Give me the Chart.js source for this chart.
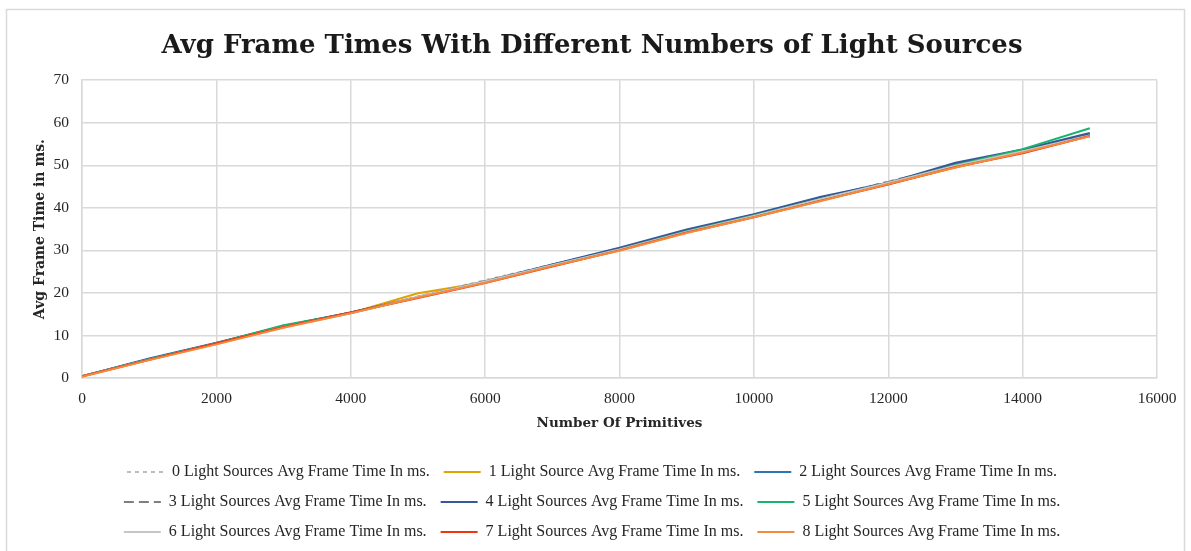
<!DOCTYPE html>
<html>
<head>
<meta charset="utf-8">
<title>Avg Frame Times With Different Numbers of Light Sources</title>
<script src="https://cdn.jsdelivr.net/npm/chart.js@4/dist/chart.umd.min.js"></script>
<style>
  html, body { margin: 0; padding: 0; background: #ffffff; }
  #wrap { position: relative; width: 1191px; height: 551px; }
  canvas { display: block; }
</style>
</head>
<body>
<div id="wrap"><canvas id="c" width="1191" height="551"></canvas></div>
<script>
// Number of primitives rendered per test run
const primitives = [0, 1000, 2000, 3000, 4000, 5000, 6000, 7000, 8000, 9000, 10000, 11000, 12000, 13000, 14000, 15000];

// Average frame time (ms) for each light-source count
const light0 = [0.4, 4.4, 8.1, 12.1, 15.2, 19.2, 23.0, 26.7, 30.4, 34.5, 38.3, 42.2, 46.2, 49.9, 53.3, 57.0];
const light1 = [0.4, 4.3, 8.0, 12.0, 15.3, 19.9, 22.5, 26.4, 30.0, 34.2, 37.9, 41.8, 45.6, 49.5, 53.1, 56.9];
const light2 = [0.4, 4.6, 8.3, 12.2, 15.4, 19.0, 22.6, 26.6, 30.4, 34.7, 38.4, 42.4, 45.9, 50.3, 53.6, 57.3];
const light3 = [0.4, 4.4, 8.1, 12.1, 15.3, 19.1, 22.8, 26.6, 30.3, 34.5, 38.3, 42.3, 46.1, 50.1, 53.5, 57.2];
const light4 = [0.4, 4.5, 8.2, 12.2, 15.4, 19.0, 22.7, 26.7, 30.6, 34.9, 38.5, 42.6, 45.9, 50.6, 53.7, 57.6];
const light5 = [0.4, 4.4, 8.2, 12.4, 15.3, 19.0, 22.6, 26.5, 30.2, 34.5, 38.2, 42.1, 45.8, 50.0, 53.8, 58.7];
const light6 = [0.4, 4.3, 8.1, 12.0, 15.2, 19.1, 22.7, 26.5, 30.2, 34.4, 38.1, 42.1, 45.9, 49.9, 53.3, 57.0];
const light7 = [0.4, 4.3, 8.2, 12.0, 15.4, 18.8, 22.3, 26.2, 30.0, 34.2, 37.8, 41.7, 45.5, 49.6, 52.8, 56.9];
const light8 = [0.3, 4.2, 7.9, 11.8, 15.2, 18.9, 22.4, 26.3, 29.9, 34.1, 37.8, 41.6, 45.6, 49.5, 53.0, 56.8];

const seriesNames = [
  '0 Light Sources Avg Frame Time In ms.',
  '1 Light Source Avg Frame Time In ms.',
  '2 Light Sources Avg Frame Time In ms.',
  '3 Light Sources Avg Frame Time In ms.',
  '4 Light Sources Avg Frame Time In ms.',
  '5 Light Sources Avg Frame Time In ms.',
  '6 Light Sources Avg Frame Time In ms.',
  '7 Light Sources Avg Frame Time In ms.',
  '8 Light Sources Avg Frame Time In ms.'
];
const seriesValues = [light0, light1, light2, light3, light4, light5, light6, light7, light8];
const seriesColors = ['#bdbdbd', '#e0a300', '#2e75b6', '#7f7f7f', '#36599a', '#17b46b', '#c6c6c6', '#f3320f', '#f58a3d'];
const seriesDashes = [[4, 4], [], [], [10, 5], [], [], [], [], []];

// Tick settings
const xTickMin = 0, xTickMax = 16000, xTickStep = 2000;
const yTickMin = 0, yTickMax = 70, yTickStep = 10;

const SERIF = "'Liberation Serif', 'DejaVu Serif', serif";
const SERIF_WIDE = "'DejaVu Serif', 'Liberation Serif', serif";
const GRID = '#d9d9d9';

const datasets = seriesValues.map((vals, i) => ({
  label: seriesNames[i],
  data: primitives.map((p, k) => ({ x: p, y: vals[k] })),
  borderColor: seriesColors[i],
  backgroundColor: seriesColors[i],
  borderDash: seriesDashes[i],
  borderWidth: 2,
  pointRadius: 0,
  pointHoverRadius: 0,
  tension: 0,
  fill: false,
  order: seriesValues.length - i   // later series paint on top
}));

// Light frame around the whole chart
const framePlugin = {
  id: 'frame',
  beforeDraw(chart) {
    const ctx = chart.ctx;
    ctx.save();
    ctx.fillStyle = '#ffffff';
    ctx.fillRect(0, 0, chart.width, chart.height);
    ctx.strokeStyle = GRID;
    ctx.lineWidth = 1.5;
    ctx.strokeRect(6.5, 9.5, 1178, 570);
    ctx.restore();
  }
};

new Chart(document.getElementById('c'), {
  type: 'line',
  data: { datasets },
  plugins: [framePlugin],
  options: {
    responsive: false,
    animation: false,
    devicePixelRatio: 1,
    layout: { padding: { left: 27, right: 34, top: 10, bottom: 1 } },
    plugins: {
      tooltip: { enabled: false },
      title: {
        display: true,
        text: 'Avg Frame Times With Different Numbers of Light Sources',
        color: '#1a1a1a',
        font: { family: SERIF_WIDE, size: 26, weight: 'bold' },
        padding: { top: 21, bottom: 18 }
      },
      legend: {
        position: 'bottom',
        labels: {
          color: '#262626',
          font: { family: SERIF, size: 16 },
          usePointStyle: true,
          pointStyle: 'line',
          pointStyleWidth: 37,
          padding: 14,
          sort: (a, b) => a.datasetIndex - b.datasetIndex,
          generateLabels(chart) {
            const items = Chart.defaults.plugins.legend.labels.generateLabels(chart);
            items.forEach(it => {
              const ds = chart.data.datasets[it.datasetIndex];
              it.lineDash = ds.borderDash;
              it.lineWidth = 2;
              it.strokeStyle = ds.borderColor;
              it.fillStyle = ds.borderColor;
              it.pointStyle = 'line';
            });
            return items;
          }
        }
      }
    },
    scales: {
      x: {
        type: 'linear',
        min: xTickMin,
        max: xTickMax,
        afterFit(scale) { scale.height = 72; },
        ticks: {
          stepSize: xTickStep,
          color: '#262626',
          padding: 12,
          font: { family: SERIF, size: 15.5 },
          callback: v => String(v)
        },
        grid: { color: GRID, lineWidth: 1.5, drawTicks: false },
        border: { color: GRID, width: 1.5 },
        title: {
          display: true,
          text: 'Number Of Primitives',
          color: '#262626',
          font: { family: SERIF_WIDE, size: 13.5, weight: 'bold' },
          padding: { top: 0, bottom: 18 }
        }
      },
      y: {
        type: 'linear',
        min: yTickMin,
        max: yTickMax,
        afterFit(scale) { scale.width = 55; },
        ticks: {
          stepSize: yTickStep,
          color: '#262626',
          padding: 13,
          font: { family: SERIF, size: 15.5 }
        },
        grid: { color: GRID, lineWidth: 1.5, drawTicks: false },
        border: { color: GRID, width: 1.5 },
        title: {
          display: true,
          text: 'Avg Frame Time in ms.',
          color: '#262626',
          font: { family: SERIF_WIDE, size: 14, weight: 'bold' },
          padding: { top: 5, bottom: 0 }
        }
      }
    }
  }
});
</script>
</body>
</html>
